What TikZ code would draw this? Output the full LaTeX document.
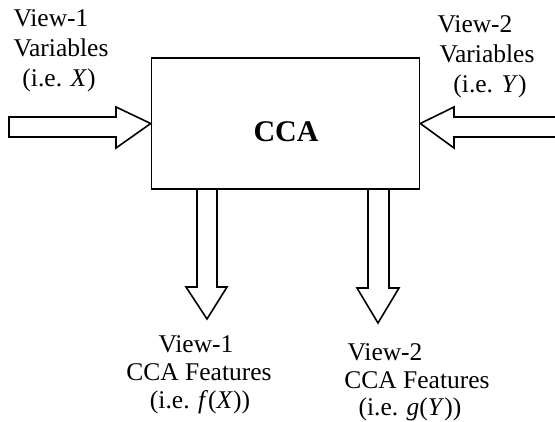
\documentclass[tikz,border=0pt]{standalone}
\usepackage{fontspec}
\setmainfont{Liberation Serif}
\begin{document}
\begin{tikzpicture}[x=1pt,y=-1pt,
  blk/.style={draw=black,line width=1.6pt,line join=miter},
  lbl/.style={font=\fontsize{25.5}{30}\selectfont,anchor=base,inner sep=0pt}]
\useasboundingbox (0,0) rectangle (555,421);
% box
\node[draw=black,line width=1.6pt,minimum width=268pt,minimum height=131pt,inner sep=0pt] (cca) at (285.5,123.5) {};
\node[font=\fontsize{30}{36}\selectfont\bfseries,anchor=base,inner sep=0pt] (ccat) at (286,141) {CCA};
% left input arrow
\coordinate (inL) at (cca.west);
\draw[blk] (9,117) -- (116,117) -- (116,107) -- (inL) -- (116,148) -- (116,137) -- (9,137) -- cycle;
% right input arrow
\coordinate (inR) at (cca.east);
\draw[blk] (557,117) -- (454,117) -- (454,107) -- (inR) -- (454,148) -- (454,137) -- (557,137);
% output arrows
\coordinate (o1) at (197,189);
\draw[blk] (o1) -- (197,287) -- (186,287) -- (207,319) -- (227,287) -- (217,287) -- (217,189);
\coordinate (o2) at (368,189);
\draw[blk] (o2) -- (368,288) -- (357,288) -- (378,323) -- (399,288) -- (389,288) -- (389,189);
% labels
\node[lbl] (l1a) at (51,26) {View-1};
\node[lbl] (l1b) at (61,56) {Variables};
\node[lbl] (l1c) at (59,86) {(i.e. \textit{X})};
\node[lbl] (r1a) at (475,32) {View-2};
\node[lbl] (r1b) at (487,62) {Variables};
\node[lbl] (r1c) at (490,92) {(i.e. \textit{Y})};
\node[lbl] (b1a) at (196,352) {View-1};
\node[lbl] (b1b) at (199,380) {CCA Features};
\node[lbl] (b1c) at (200,408) {(i.e. \textit{f}(\textit{X}))};
\node[lbl] (b2a) at (385,360) {View-2};
\node[lbl] (b2b) at (417,388) {CCA Features};
\node[lbl] (b2c) at (410,415) {(i.e. \textit{g}(\textit{Y}))};
\end{tikzpicture}
\end{document}
